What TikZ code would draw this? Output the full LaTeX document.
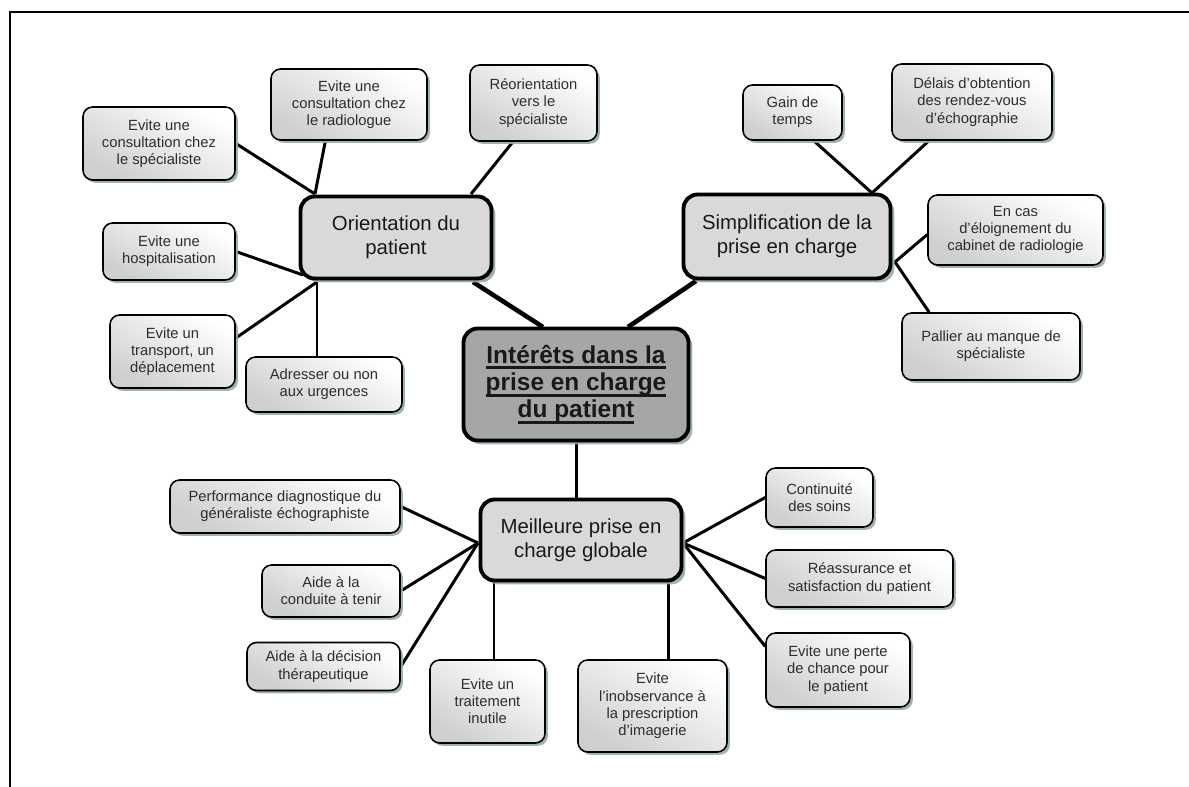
\documentclass[tikz,border=0pt]{standalone}
\usepackage{fontspec}
\setmainfont{Liberation Sans}
\definecolor{mmshadow}{RGB}{150,168,172}
\definecolor{mmgray}{RGB}{217,217,217}
\definecolor{mmdark}{RGB}{166,166,166}
\definecolor{mmtext}{RGB}{45,45,45}
\usetikzlibrary{positioning,shadows,backgrounds}
\newcommand{\thickul}[1]{\leavevmode\setbox0=\hbox{#1}\rlap{\rule[-3.6pt]{\wd0}{1.7pt}}\box0}

\begin{document}
\begin{tikzpicture}[
  idea/.style={draw,line width=0.9pt,rounded corners=5.5pt,top color=white,bottom color=gray!38,shading angle=-30,
    drop shadow={shadow xshift=1.6pt,shadow yshift=-1.6pt,fill=mmshadow,opacity=0.9},
    font={\fontsize{8.4}{9.8}\selectfont},text=mmtext,align=center,inner sep=1pt},
  topic/.style={draw,line width=2.2pt,rounded corners=8pt,fill=mmgray,
    drop shadow={shadow xshift=2.2pt,shadow yshift=-2.2pt,fill=mmshadow,opacity=0.9},
    font={\fontsize{11.6}{13.4}\selectfont},text=black!90,align=center},
  core/.style={topic,fill=mmdark,font={\bfseries\fontsize{13.9}{15.6}\selectfont}},
  twig/.style={line width=1.7pt},
  limb/.style={line width=2.6pt}]
  \useasboundingbox (0,0) rectangle (23.78,15.74);
  % Frame
  \draw[line width=1.1pt] (0.20,0) -- (0.20,15.50) -- (23.78,15.50);
  % Centre and main topics
  \node[core,minimum width=4.50cm,minimum height=2.24cm] (centre) at (11.52,8.05) {\thickul{Intérêts dans la}\\\thickul{prise en charge}\\\thickul{du patient}};
  \node[topic,minimum width=3.82cm,minimum height=1.64cm] (orient) at (7.92,10.99) {Orientation du\\patient};
  \node[topic,minimum width=4.14cm,minimum height=1.68cm] (simpl) at (15.74,11.01) {Simplification de la\\prise en charge};
  \node[topic,minimum width=4.02cm,minimum height=1.62cm] (meill) at (11.62,4.94) {Meilleure prise en\\charge globale};
  % Orientation branch
  \node[idea,minimum width=3.04cm,minimum height=1.46cm] (spec) at (3.18,12.87) {Evite une\\consultation chez\\le spécialiste};
  \node[idea,minimum width=3.12cm,minimum height=1.42cm] (rad) at (6.98,13.65) {Evite une\\consultation chez\\le radiologue};
  \node[idea,minimum width=2.54cm,minimum height=1.52cm] (reor) at (10.67,13.68) {Réorientation\\vers le\\spécialiste};
  \node[idea,minimum width=2.64cm,minimum height=1.14cm] (hosp) at (3.38,10.71) {Evite une\\hospitalisation};
  \node[idea,minimum width=2.50cm,minimum height=1.46cm] (transp) at (3.45,8.71) {Evite un\\transport, un\\déplacement};
  \node[idea,minimum width=3.12cm,minimum height=1.10cm] (urg) at (6.48,8.05) {Adresser ou non\\aux urgences};
  % Simplification branch
  \node[idea,minimum width=1.98cm,minimum height=1.10cm] (gain) at (15.85,13.49) {Gain de\\temps};
  \node[idea,minimum width=3.20cm,minimum height=1.52cm] (delais) at (19.44,13.70) {Délais d’obtention\\des rendez-vous\\d’échographie};
  \node[idea,minimum width=3.50cm,minimum height=1.40cm] (encas) at (20.31,11.14) {En cas\\d’éloignement du\\cabinet de radiologie};
  \node[idea,minimum width=3.56cm,minimum height=1.34cm] (pallier) at (19.82,8.81) {Pallier au manque de\\spécialiste};
  % Meilleure prise en charge branch
  \node[idea,minimum width=4.60cm,minimum height=1.06cm] (perf) at (5.70,5.61) {Performance diagnostique du\\généraliste échographiste};
  \node[idea,minimum width=2.76cm,minimum height=1.04cm] (cond) at (6.62,3.92) {Aide à la\\conduite à tenir};
  \node[idea,minimum width=3.06cm,minimum height=0.96cm] (dec) at (6.47,2.41) {Aide à la décision\\thérapeutique};
  \node[idea,minimum width=2.30cm,minimum height=1.66cm] (trait) at (9.75,1.71) {Evite un\\traitement\\inutile};
  \node[idea,minimum width=2.98cm,minimum height=1.84cm] (inob) at (13.05,1.62) {Evite\\l'inobservance à\\la prescription\\d'imagerie};
  \node[idea,minimum width=2.14cm,minimum height=1.18cm] (cont) at (16.39,5.79) {Continuité\\des soins};
  \node[idea,minimum width=3.74cm,minimum height=1.14cm] (reas) at (17.19,4.17) {Réassurance et\\satisfaction du patient};
  \node[idea,minimum width=2.88cm,minimum height=1.48cm] (perte) at (16.76,2.34) {Evite une perte\\de chance pour\\le patient};
  % Junction points on the topic borders
  \coordinate (otop) at (6.30,11.86);
  \coordinate (oright) at (9.42,11.86);
  \coordinate (olow) at (6.34,10.10);
  \coordinate (ohosp) at (6.06,10.24);
  \coordinate (oout) at (9.46,10.10);
  \coordinate (sout) at (13.92,10.12);
  \coordinate (stop) at (17.44,11.88);
  \coordinate (sright) at (17.90,10.50);
  \coordinate (mleft) at (9.56,4.88);
  \coordinate (mright) at (13.66,4.88);
  \coordinate (ctl) at (10.86,9.20);
  \coordinate (ctr) at (12.56,9.20);
  % Connectors
  \begin{scope}[on background layer]
    \draw[limb] (oout) -- (ctl);
    \draw[limb] (sout) -- (ctr);
    \draw[twig] (centre.south) -- (centre.south |- meill.north);
    \draw[twig] (spec.east) -- (otop);
    \draw[twig] (rad.237) -- (otop);
    \draw[twig] (reor.242) -- (oright);
    \draw[twig] (hosp.east) -- (ohosp);
    \draw[twig] (transp.12) -- (olow);
    \draw[twig] (olow) -- (olow |- urg.north);
    \draw[twig] (gain.307) -- (stop);
    \draw[twig] (delais.222) -- (stop);
    \draw[twig] (encas.183) -- (sright);
    \draw[twig] (pallier.151) -- (sright);
    \draw[twig] (perf.east) -- (mleft);
    \draw[twig] (cond.east) -- (mleft);
    \draw[twig] (dec.east) -- (mleft);
    \draw[twig] ([xshift=0.13cm]trait.north) -- ([xshift=0.13cm]trait.north |- meill.south);
    \draw[twig] ([xshift=0.31cm]inob.north) -- ([xshift=0.31cm]inob.north |- meill.south);
    \draw[twig] (cont.west) -- (mright);
    \draw[twig] (reas.west) -- (mright);
    \draw[twig] (perte.162) -- (mright);
  \end{scope}
\end{tikzpicture}
\end{document}
